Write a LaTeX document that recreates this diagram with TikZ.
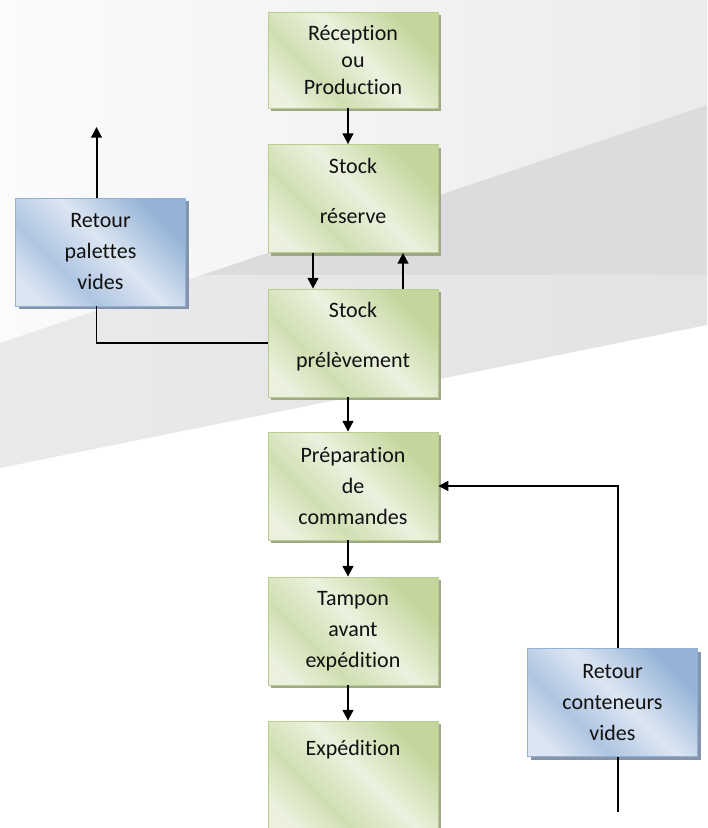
\documentclass[tikz,border=0pt]{standalone}
\usepackage{fontspec}
\setmainfont{Carlito}[Ligatures=NoCommon]
\usetikzlibrary{arrows.meta,shadows,calc}
\definecolor{gD}{HTML}{C3D69B}
\definecolor{gL}{HTML}{EBF1DE}
\definecolor{gM}{HTML}{D0DFB2}
\definecolor{bD}{HTML}{95B3D7}
\definecolor{bL}{HTML}{DCE6F2}
\definecolor{bM}{HTML}{AFC5E2}
\definecolor{gBorder}{HTML}{B9CE8E}
\definecolor{bBorder}{HTML}{93B0D5}
\definecolor{gShadow}{HTML}{9DA887}
\definecolor{bShadow}{HTML}{8594AA}
\definecolor{bgL}{HTML}{FBFBFB}
\definecolor{bgR}{HTML}{EBEBEC}
\definecolor{bandDark}{HTML}{DCDCDE}
\definecolor{bandL}{HTML}{EAEAEB}
\definecolor{bandR}{HTML}{E3E3E5}
\definecolor{txt}{HTML}{111111}
\pgfdeclarehorizontalshading{greenshade}{100bp}{color(0bp)=(gD); color(26bp)=(gD); color(47bp)=(gL); color(64bp)=(gM); color(78bp)=(gL); color(100bp)=(gL)}
\pgfdeclarehorizontalshading{blueshade}{100bp}{color(0bp)=(bD); color(26bp)=(bD); color(47bp)=(bL); color(64bp)=(bM); color(78bp)=(bL); color(100bp)=(bL)}
\begin{document}
\begin{tikzpicture}[x=0.75pt,y=-0.75pt,
  basebox/.style={rectangle, minimum width=127.5pt, minimum height=81pt, inner sep=2pt,
    align=center, font=\fontsize{16.5}{23.25}\selectfont, text=txt, line width=0.6pt},
  gbox/.style={basebox, draw=gBorder, shading=greenshade, shading angle=225,
    general shadow={fill=gShadow, shadow xshift=2.25pt, shadow yshift=-2.25pt}},
  bbox/.style={basebox, draw=bBorder, shading=blueshade, shading angle=225,
    general shadow={fill=bShadow, shadow xshift=2.25pt, shadow yshift=-2.25pt}},
  arr/.style={line width=1.5pt, -{Triangle[width=8pt,length=8pt]}},
  conn/.style={line width=1.1pt},
  connarr/.style={line width=1.1pt, -{Triangle[width=7.5pt,length=7.5pt]}}]
\useasboundingbox (0,0) rectangle (707,828);
% background
\fill[white] (0,0) rectangle (707,828);
\shade[left color=bgL, right color=bgR] (0,0) -- (707,0) -- (707,105) -- (0,343) -- cycle;
\fill[bandDark] (202,275) -- (707,105) -- (707,275) -- cycle;
\shade[left color=bandL, right color=bandR] (0,343) -- (202,275) -- (707,275) -- (707,325) -- (0,468) -- cycle;
% boxes
\node[gbox, minimum height=72pt, font=\fontsize{16.5}{20.25}\selectfont] (rec) at (353,60) {Réception\\ou\\Production};
\node[gbox] (res) at (353,198.5) {Stock\\[14.25pt]réserve\rule[-12pt]{0pt}{0pt}};
\node[gbox] (prel) at (353,343) {Stock\\[14.25pt]prélèvement\rule[-12pt]{0pt}{0pt}};
\node[gbox] (prep) at (353,486) {Préparation\\de\\commandes};
\node[gbox] (tamp) at (353,631) {Tampon\\avant\\expédition};
\node[gbox] (exp) at (353,775) {Expédition\rule[-40pt]{0pt}{0pt}};
\node[bbox] (pal) at (100.5,252) {Retour\\palettes\\vides};
\node[bbox] (cont) at (612.5,702.5) {Retour\\conteneurs\\vides};
% connectors
\draw[arr] ($(rec.south)+(-5,0)$) -- ($(res.north)+(-5,0)$);
\draw[arr] ($(res.south)+(-40,0)$) -- ($(prel.north)+(-40,0)$);
\draw[arr] ($(prel.north)+(50,0)$) -- ($(res.south)+(50,0)$);
\draw[arr] ($(prel.south)+(-5,0)$) -- ($(prep.north)+(-5,0)$);
\draw[arr] ($(prep.south)+(-5,0)$) -- ($(tamp.north)+(-5,0)$);
\draw[arr] ($(tamp.south)+(-5,0)$) -- ($(exp.north)+(-5,0)$);
\coordinate (palup) at (96.5,127);
\draw[arr] ($(pal.north)+(-4,0)$) -- (palup);
\draw[conn] (prel.west) -| ($(pal.south)+(-4,0)$);
\coordinate (contin) at (618,812);
\draw[conn] (contin) -- ($(cont.south)+(5.5,0)$);
\draw[connarr] ($(cont.north)+(5.5,0)$) |- (prep.east);
\end{tikzpicture}
\end{document}
